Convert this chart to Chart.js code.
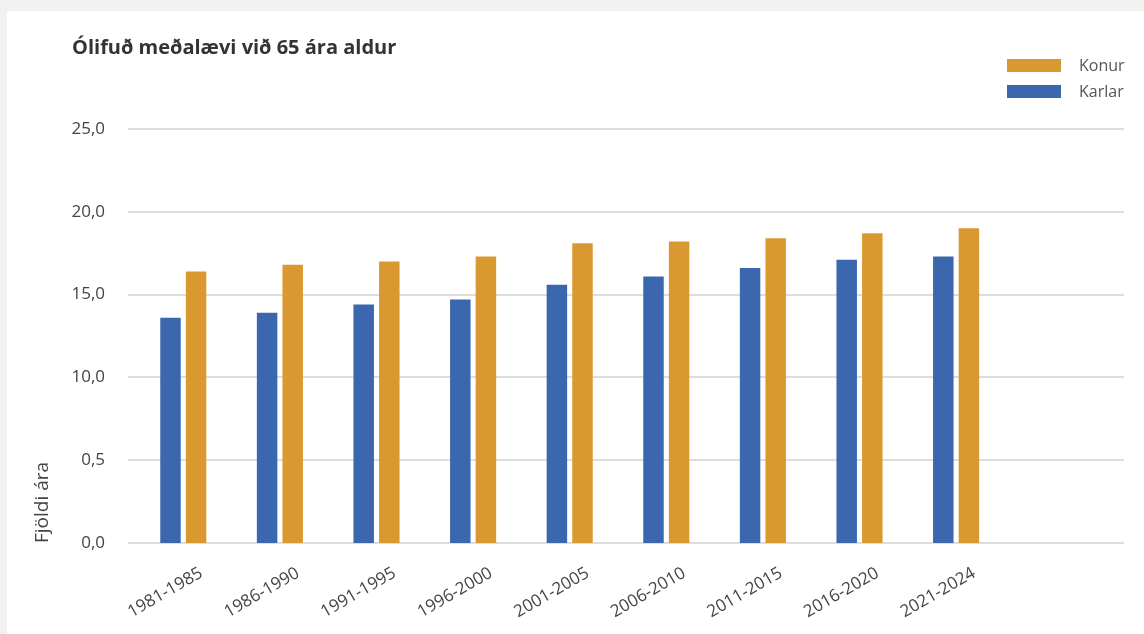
<!DOCTYPE html>
<html>
<head>
<meta charset="utf-8">
<script src="https://cdn.jsdelivr.net/npm/chart.js@4.4.1/dist/chart.umd.min.js"></script>
<style>
  body { margin: 0; background: #f2f1ef; font-family: "Open Sans", sans-serif; }
  #card { position: absolute; left: 7px; top: 11px; width: 1137px; height: 623px; background: #fff; }
  #wrap { position: absolute; left: 0; top: 0; width: 1144px; height: 634px; }
  #title { position: absolute; left: 72px; top: 33px; font-size: 20px; font-weight: 700; color: #333; }
  #legend { position: absolute; left: 1007px; top: 52px; }
  .item { display: flex; align-items: center; height: 26px; font-size: 16px; color: #555; }
  .box { width: 54px; height: 13px; margin-right: 18px; }
</style>
</head>
<body>
<div id="card"></div>
<div id="wrap"><canvas id="barChart" width="1144" height="634"></canvas></div>
<div id="title">Ólifuð meðalævi við 65 ára aldur</div>
<div id="legend"></div>
<script>
// Tímabil (x-ás)
var categories = ["1981-1985", "1986-1990", "1991-1995", "1996-2000", "2001-2005",
                  "2006-2010", "2011-2015", "2016-2020", "2021-2024"];

// Ólifuð meðalævi í árum
var karlar = [13.6, 13.9, 14.4, 14.7, 15.6, 16.1, 16.6, 17.1, 17.3];
var konur  = [16.4, 16.8, 17.0, 17.3, 18.1, 18.2, 18.4, 18.7, 19.0];

// Y-ás merkingar eins og á myndinni
var tickValues = [0, 5, 10, 15, 20, 25];
var tickLabels = ["0,0", "0,5", "10,0", "15,0", "20,0", "25,0"];

var blue = "#3a67ae";
var orange = "#da9930";

// Grid lines run a bit wider than the category slots
var wideGrid = {
    id: "wideGrid",
    beforeDatasetsDraw(chart) {
        var y = chart.scales.y, ctx = chart.ctx;
        ctx.save();
        ctx.strokeStyle = "#dddddb";
        ctx.lineWidth = 2;
        tickValues.forEach(v => {
            var py = Math.round(y.getPixelForValue(v));
            ctx.beginPath();
            ctx.moveTo(128, py);
            ctx.lineTo(1124, py);
            ctx.stroke();
        });
        ctx.restore();
    }
};

var chart = new Chart(document.getElementById("barChart"), {
    type: "bar",
    data: {
        labels: categories.concat([""]),
        datasets: [
            { label: "Karlar", data: karlar, backgroundColor: blue },
            { label: "Konur", data: konur, backgroundColor: orange }
        ]
    },
    options: {
        responsive: false,
        animation: false,
        layout: { padding: { left: 0, right: 43, top: 129, bottom: 0 } },
        datasets: { bar: { categoryPercentage: 0.53, barPercentage: 0.8 } },
        scales: {
            x: {
                afterFit: s => { s.height = 91; },
                grid: { display: false, drawTicks: false },
                border: { display: false },
                ticks: {
                    color: "#444", font: { family: "Open Sans", size: 17 },
                    maxRotation: 30, minRotation: 30, padding: 20, labelOffset: 18
                }
            },
            y: {
                min: 0, max: 25,
                afterFit: s => { s.width = 135; },
                afterBuildTicks: s => { s.ticks = tickValues.map(v => ({ value: v })); },
                grid: { display: false, drawTicks: false },
                border: { display: false },
                ticks: {
                    color: "#444", font: { family: "Open Sans", size: 17 }, padding: 30,
                    callback: v => tickLabels[tickValues.indexOf(v)]
                },
                title: {
                    display: true, text: "Fjöldi ára", align: "start",
                    color: "#444", font: { family: "Open Sans", size: 19 },
                    padding: { top: 31 }
                }
            }
        },
        plugins: {
            legend: { display: false },
            tooltip: { enabled: false }
        }
    },
    plugins: [wideGrid]
});

// Legend: Konur first, then Karlar
var legend = document.getElementById("legend");
chart.data.datasets.slice().reverse().forEach(ds => {
    var row = document.createElement("div");
    row.className = "item";
    row.innerHTML = '<span class="box" style="background:' + ds.backgroundColor + '"></span>' + ds.label;
    legend.appendChild(row);
});
</script>
</body>
</html>
